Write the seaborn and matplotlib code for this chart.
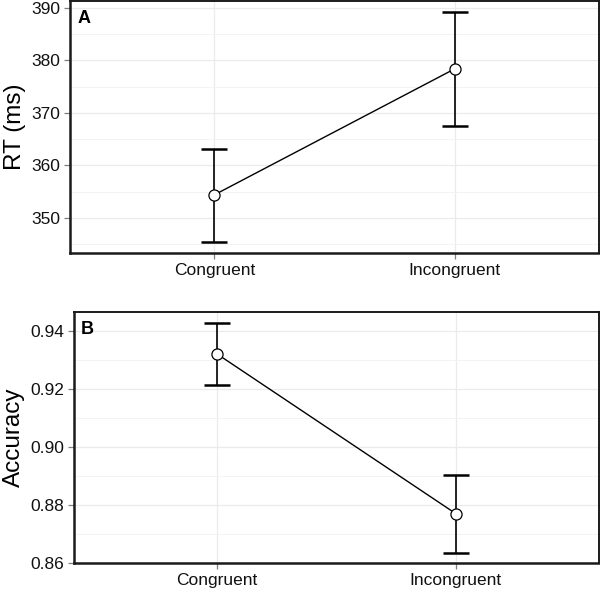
import numpy as np
import pandas as pd
import matplotlib
matplotlib.use("Agg")
import matplotlib.pyplot as plt
from matplotlib.ticker import MultipleLocator
import seaborn as sns

# ─────────────────────────────────────────
# DATA
# ─────────────────────────────────────────
conditions = ["Congruent", "Incongruent"]

rt_mean = [354.4, 378.4]
rt_lower = [345.4, 367.5]
rt_upper = [363.1, 389.2]

acc_mean = [0.932, 0.877]
acc_lower = [0.9213, 0.8633]
acc_upper = [0.9427, 0.8902]

# ─────────────────────────────────────────
# SETUP
# ─────────────────────────────────────────
sns.set_theme(style="white")
plt.rcParams['font.family'] = ['Liberation Sans', 'DejaVu Sans']
plt.rcParams['text.color'] = 'black'
plt.rcParams['axes.labelcolor'] = 'black'
plt.rcParams['xtick.labelcolor'] = '#111111'
plt.rcParams['ytick.labelcolor'] = '#111111'

fig = plt.figure(figsize=(6, 5.9), dpi=100)
ax_a = fig.add_axes([0.117, 0.571, 0.881, 0.427])
ax_b = fig.add_axes([0.123, 0.046, 0.875, 0.425])


def panel(ax, mean, lower, upper, ylabel, letter, ylim, major, minor, fmt):
    df = pd.DataFrame({'condition': conditions, 'value': mean})
    pos = np.arange(len(conditions))
    mean = np.array(mean)
    yerr = [mean - np.array(lower), np.array(upper) - mean]
    ax.errorbar(pos, mean, yerr=yerr, fmt='none', ecolor='black',
                elinewidth=1.2, capsize=9.5, capthick=1.8, zorder=1)
    sns.pointplot(data=df, x='condition', y='value', ax=ax, color='black',
                  errorbar=None, markers='o', markersize=8, linewidth=1,
                  markerfacecolor='white', markeredgecolor='black',
                  markeredgewidth=0.9)
    for ln in ax.lines:
        ln.set_zorder(3)
    ax.set_xlim(-0.6, 1.6)
    ax.set_ylim(*ylim)
    ax.yaxis.set_major_locator(MultipleLocator(major))
    ax.yaxis.set_minor_locator(MultipleLocator(minor))
    ax.yaxis.set_major_formatter(plt.FormatStrFormatter(fmt))
    ax.grid(True, which='major', color='#ebebeb', linewidth=0.9, zorder=0)
    ax.grid(True, which='minor', axis='y', color='#f3f3f3', linewidth=0.7, zorder=0)
    ax.set_axisbelow(True)
    ax.set_xlabel('')
    ax.set_ylabel(ylabel, fontsize=17.5, labelpad=4)
    ax.tick_params(axis='both', which='major', labelsize=12.5, length=4,
                   width=0.9, color='#7f7f7f', pad=3, left=True, bottom=True)
    ax.tick_params(axis='y', which='minor', length=0)
    for side, sp in ax.spines.items():
        sp.set_visible(True)
        sp.set_color('#1a1a1a')
        sp.set_linewidth(1.8 if side in ('left', 'bottom') else 1.4)
    ax.text(0.013, 0.965, letter, transform=ax.transAxes, fontsize=13,
            fontweight='bold', ha='left', va='top', color='black')


panel(ax_a, rt_mean, rt_lower, rt_upper, 'RT (ms)', 'A',
      (343.3, 391.3), 10, 5, '%d')
panel(ax_b, acc_mean, acc_lower, acc_upper, 'Accuracy', 'B',
      (0.86, 0.9464), 0.02, 0.01, '%.2f')

fig.savefig('out.png', dpi=100)
